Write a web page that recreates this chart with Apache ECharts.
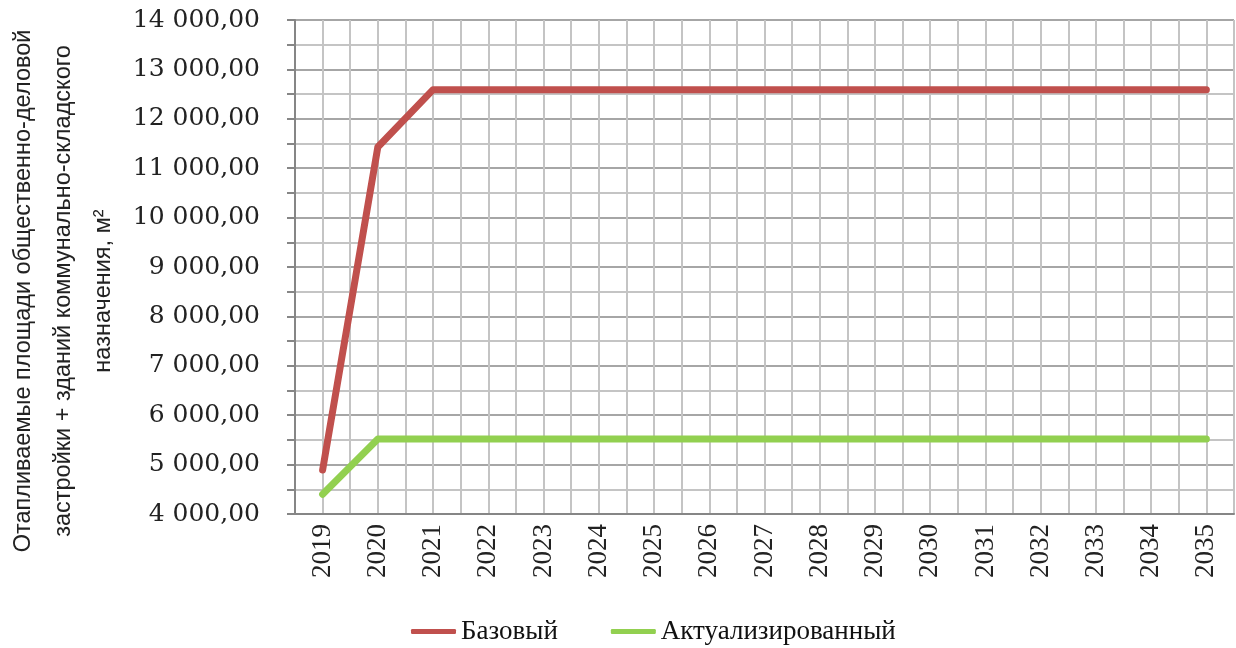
<!DOCTYPE html>
<html>
<head>
<meta charset="utf-8">
<title>Отапливаемые площади</title>
<script src="https://cdn.jsdelivr.net/npm/echarts/dist/echarts.min.js"></script>
<style>
  html, body { margin: 0; padding: 0; background: #fff; }
  #chart { width: 1236px; height: 648px; }
</style>
</head>
<body>
<div id="chart"></div>
<script>
// years on the x axis
var years = ['2019', '2020', '2021', '2022', '2023', '2024', '2025', '2026', '2027',
  '2028', '2029', '2030', '2031', '2032', '2033', '2034', '2035']

// heated area, m2
var bazovyi = [4890, 11430, 12590, 12590, 12590, 12590, 12590, 12590, 12590,
  12590, 12590, 12590, 12590, 12590, 12590, 12590, 12590]
var aktualiz = [4400, 5520, 5520, 5520, 5520, 5520, 5520, 5520, 5520,
  5520, 5520, 5520, 5520, 5520, 5520, 5520, 5520]

var seriesNames = ['Базовый', 'Актуализированный']
var titleLines = [
  'Отапливаемые площади общественно-деловой',
  'застройки + зданий коммунально-складского',
  'назначения, м²'
]

function fmt(v) {
  // 14000 -> "14 000,00"
  var s = String(Math.round(v))
  s = s.replace(/\B(?=(\d{3})+(?!\d))/g, ' ')
  return s + ',00'
}

var chart = echarts.init(document.getElementById('chart'))

var option = {
  animation: false,
  color: ['#C0504D', '#92D050'],
  grid: {
    left: 295,
    right: 2,
    top: 20,
    bottom: 134,
    outerBoundsMode: 'none'
  },
  graphic: [
    {
      // y axis title, three lines rotated
      type: 'text',
      x: 64,
      y: 291,
      rotation: Math.PI / 2,
      style: {
        text: titleLines.join('\n'),
        fontFamily: 'Liberation Sans, Arial, sans-serif',
        fontSize: 23.5,
        lineHeight: 40,
        fill: '#222',
        align: 'center',
        verticalAlign: 'middle',
        textAlign: 'center',
        textVerticalAlign: 'middle'
      }
    }
  ],
  legend: {
    left: 406,
    top: 613,
    icon: 'roundRect',
    itemWidth: 45,
    itemHeight: 5,
    itemGap: 53,
    textStyle: {
      fontFamily: 'Liberation Serif',
      fontSize: 27,
      color: '#111'
    },
    data: seriesNames
  },
  xAxis: [
    {
      type: 'category',
      data: years,
      boundaryGap: true,
      axisLine: { lineStyle: { color: '#868686', width: 2 } },
      axisTick: { alignWithLabel: true, length: 6, lineStyle: { color: '#868686', width: 2 } },
      axisLabel: {
        rotate: 90,
        margin: 10,
        fontFamily: 'Liberation Serif',
        fontSize: 27,
        color: '#222'
      },
      splitLine: { show: false }
    },
    {
      // helper axis: vertical grid every half year
      type: 'value',
      min: 0,
      max: 34,
      interval: 1,
      position: 'bottom',
      axisLine: { show: false },
      axisTick: { show: false },
      axisLabel: { show: false },
      splitLine: { show: true, lineStyle: { color: '#c4c4c4', width: 2 } }
    }
  ],
  yAxis: {
    type: 'value',
    min: 4000,
    max: 14000,
    interval: 1000,
    axisLine: { show: true, lineStyle: { color: '#868686', width: 2 } },
    axisTick: { show: true, length: 8, lineStyle: { color: '#868686', width: 2 } },
    minorTick: { show: true, splitNumber: 2, length: 8, lineStyle: { color: '#868686', width: 2 } },
    axisLabel: {
      margin: 35,
      fontFamily: 'DejaVu Serif',
      fontSize: 25,
      color: '#222',
      formatter: fmt
    },
    splitLine: { show: true, lineStyle: { color: '#a6a6a6', width: 2 } },
    minorSplitLine: { show: true, lineStyle: { color: '#c4c4c4', width: 2 } }
  },
  series: [
    {
      name: seriesNames[0],
      type: 'line',
      data: bazovyi,
      symbol: 'none',
      lineStyle: { width: 7, cap: 'round', join: 'round' },
      z: 3
    },
    {
      name: seriesNames[1],
      type: 'line',
      data: aktualiz,
      symbol: 'none',
      lineStyle: { width: 7, cap: 'round', join: 'round' },
      z: 3
    }
  ]
}

chart.setOption(option)
</script>
</body>
</html>
